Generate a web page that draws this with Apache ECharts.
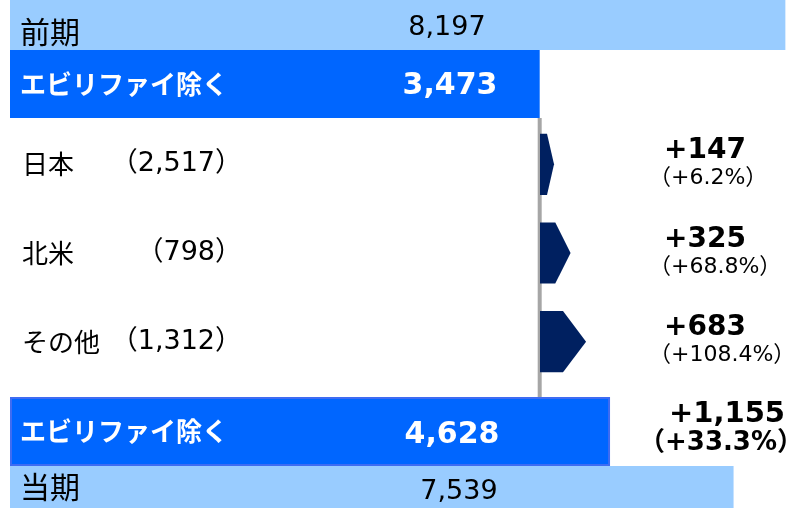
<!DOCTYPE html>
<html lang="ja" style="height: 100%">
<head>
<meta charset="utf-8">
</head>
<body style="height: 100%; margin: 0">
<div id="container" style="width: 797px; height: 508px"></div>
<script src="https://cdn.jsdelivr.net/npm/echarts@6/dist/echarts.min.js"></script>
<script>
// 売上（億円）
var totalPrev = 8197;
var totalCur = 7539;
var exAbilifyPrev = 3473;
var exAbilifyCur = 4628;
var labelPrev = '前期';
var labelCur = '当期';
var labelEx = 'エビリファイ除く';
var regionNames = ['日本', '北米', 'その他'];
var regionSales = [2517, 798, 1312];
var regionDiff = [147, 325, 683];
var regionPct = [6.2, 68.8, 108.4];
var totalDiff = 1155;
var totalPct = 33.3;

var JP = "'Noto Sans CJK JP', sans-serif";
var NUM = "'DejaVu Sans', 'Noto Sans CJK JP', sans-serif";
var ARROW_MIN = 75; // log axis start for the arrows

function fmt(v) {
  return v.toLocaleString('en-US');
}

var dom = document.getElementById('container');
var myChart = echarts.init(dom, null, { renderer: 'canvas' });

var hidden = { show: false };

function nameAxis(gridIndex, name, fontSize, bold, color, shiftDown) {
  return {
    type: 'category', gridIndex: gridIndex, data: [name], z: 10,
    axisLine: hidden, axisTick: hidden, splitLine: hidden,
    axisLabel: {
      inside: true, margin: 10,
      formatter: function (v) {
        return shiftDown ? '{s| }\n{t|' + v + '}' : '{t|' + v + '}';
      },
      rich: {
        s: { fontSize: 10, lineHeight: shiftDown || 0 },
        t: {
          color: color, fontSize: fontSize, lineHeight: fontSize + 2,
          fontWeight: bold ? 'bold' : 'normal', fontFamily: JP
        }
      }
    }
  };
}

function barSeries(idx, yIdx, value, color, labelPos, fontSize, bold, textColor, extra) {
  return Object.assign({
    type: 'bar', xAxisIndex: idx, yAxisIndex: yIdx,
    data: [value], barWidth: '100%', silent: true,
    itemStyle: { color: color },
    label: {
      show: true, position: labelPos, align: 'center', verticalAlign: 'middle',
      formatter: function (p) { return fmt(p.value); },
      color: textColor, fontSize: fontSize, fontWeight: bold ? 'bold' : 'normal',
      fontFamily: NUM
    }
  }, extra || {});
}

var option = {
  animation: false,
  grid: [
    { left: 10, right: 0, top: 0, height: 50, outerBoundsMode: 'none' },      // 前期
    { left: 10, right: 0, top: 50, height: 68, outerBoundsMode: 'none' },     // エビリファイ除く (前期)
    { left: 540, width: 54, top: 120, height: 266, outerBoundsMode: 'none' }, // 地域別増減
    { left: 10, right: 0, top: 397, height: 69, outerBoundsMode: 'none' },    // エビリファイ除く (当期)
    { left: 10, right: 0, top: 466, height: 42, outerBoundsMode: 'none' }     // 当期
  ],
  xAxis: [
    { type: 'value', gridIndex: 0, min: 0, max: 8320, show: false },
    { type: 'value', gridIndex: 1, min: 0, max: 5160, show: false },
    { type: 'log', gridIndex: 2, min: ARROW_MIN, max: 1000, show: false },
    { type: 'value', gridIndex: 3, min: 0, max: 6070, show: false },
    { type: 'value', gridIndex: 4, min: 0, max: 8200, show: false }
  ],
  yAxis: [
    nameAxis(0, labelPrev, 30, false, '#000', 13),
    nameAxis(1, labelEx, 26, true, '#fff'),
    {
      type: 'category', gridIndex: 2, data: regionNames, inverse: true,
      axisLine: hidden, axisTick: hidden, splitLine: hidden,
      axisLabel: {
        margin: 298,
        formatter: function (v, i) {
          return '{n|' + v + '}{v|（' + fmt(regionSales[i]) + '）}';
        },
        rich: {
          n: { width: 100, align: 'left', fontSize: 26, fontFamily: JP, color: '#000' },
          v: { width: 120, align: 'right', fontSize: 27, fontFamily: NUM, color: '#000' }
        }
      }
    },
    {
      type: 'category', gridIndex: 2, data: regionNames, inverse: true, position: 'right',
      axisLine: hidden, axisTick: hidden, splitLine: hidden,
      axisLabel: {
        margin: 55, align: 'left',
        formatter: function (v, i) {
          return '{a|+' + fmt(regionDiff[i]) + '}\n{b|（+' + regionPct[i].toFixed(1) + '%）}';
        },
        rich: {
          a: { fontSize: 28, fontWeight: 'bold', fontFamily: NUM, color: '#000', lineHeight: 28, padding: [0, 0, 0, 15] },
          b: { fontSize: 22, fontFamily: NUM, color: '#000', lineHeight: 27 }
        }
      }
    },
    nameAxis(3, labelEx, 26, true, '#fff'),
    {
      type: 'category', gridIndex: 3, data: [labelEx], position: 'right', z: 10,
      axisLine: hidden, axisTick: hidden, splitLine: hidden,
      axisLabel: {
        inside: true, margin: -6, align: 'right', padding: [0, 0, 6, 0],
        formatter: function () {
          return '{a|+' + fmt(totalDiff) + '}\n{b|（+' + totalPct.toFixed(1) + '%）}';
        },
        rich: {
          a: { fontSize: 29, fontWeight: 'bold', fontFamily: NUM, color: '#000', lineHeight: 29, padding: [0, 18, 0, 0] },
          b: { fontSize: 26, fontWeight: 'bold', fontFamily: NUM, color: '#000', lineHeight: 28 }
        }
      }
    },
    nameAxis(4, labelCur, 30, false, '#000')
  ],
  series: [
    barSeries(0, 0, totalPrev, '#99ccff', [437, 28], 27, false, '#000'),
    barSeries(1, 1, exAbilifyPrev, '#0066ff', [440, 36], 30, true, '#fff'),
    {
      type: 'custom', xAxisIndex: 2, yAxisIndex: 2, silent: true, z: 5,
      data: regionDiff.map(function (v, i) { return [v, i]; }),
      encode: { x: 0, y: 1 },
      renderItem: function (params, api) {
        var y = api.value(1);
        var base = api.coord([ARROW_MIN, y]);
        var tip = api.coord([api.value(0), y]);
        var h = api.size([1, 1])[1] * 0.69;
        var shoulder = tip[0] - (tip[0] - base[0]) * 0.5;
        return {
          type: 'polygon',
          shape: {
            points: [
              [base[0], base[1] - h / 2],
              [shoulder, base[1] - h / 2],
              [tip[0], base[1]],
              [shoulder, base[1] + h / 2],
              [base[0], base[1] + h / 2]
            ]
          },
          style: { fill: '#002060' }
        };
      }
    },
    barSeries(3, 4, exAbilifyCur, '#0066ff', [442, 38], 30, true, '#fff', {
      itemStyle: { color: '#0066ff', borderColor: '#3f6cf2', borderWidth: 2 }
    }),
    barSeries(4, 6, totalCur, '#99ccff', [449, 26], 27, false, '#000')
  ]
};

myChart.setOption(option);

// 前期「エビリファイ除く」の終点から当期バーまでの縦線
var lineX = myChart.convertToPixel({ xAxisIndex: 1 }, exAbilifyPrev);
myChart.setOption({
  graphic: [{
    type: 'line', z: 1,
    shape: { x1: lineX, y1: 118, x2: lineX, y2: 397 },
    style: { stroke: '#a6a6a6', lineWidth: 4 }
  }]
});

window.addEventListener('resize', myChart.resize);
</script>
</body>
</html>
